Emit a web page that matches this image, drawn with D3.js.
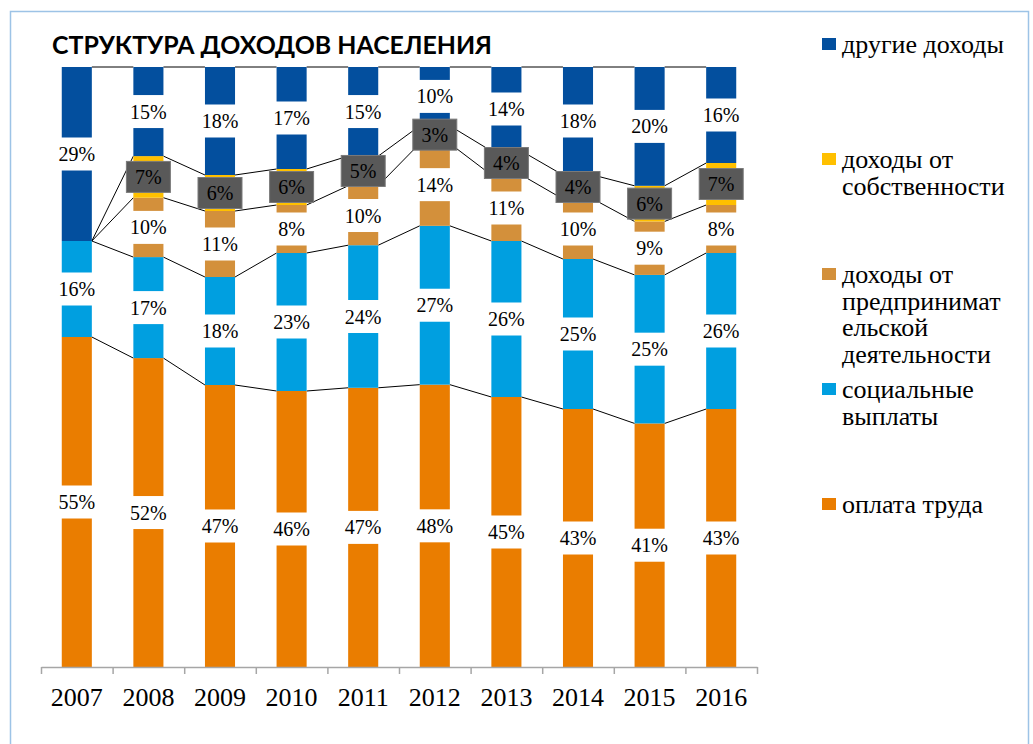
<!DOCTYPE html>
<html>
<head>
<meta charset="utf-8">
<script src="https://cdn.jsdelivr.net/npm/d3@7"></script>
<style>
  body { margin: 0; background: #fff; }
  svg { display: block; }
</style>
</head>
<body>
<svg id="chart"></svg>
<script>
const years = ["2007", "2008", "2009", "2010", "2011", "2012", "2013", "2014", "2015", "2016"];
const wages = [55, 52, 47, 46, 47, 48, 45, 43, 41, 43];
const social = [16, 17, 18, 23, 24, 27, 26, 25, 25, 26];
const business = [0, 10, 11, 8, 10, 14, 11, 10, 9, 8];
const property = [0, 7, 6, 6, 5, 3, 4, 4, 6, 7];
const other = [29, 15, 18, 17, 15, 10, 14, 18, 20, 16];

const seriesKeys = ["wages", "social", "business", "property", "other"];
const seriesNames = {
  other: ["другие доходы"],
  property: ["доходы от", "собственности"],
  business: ["доходы от", "предпринимат", "ельской", "деятельности"],
  social: ["социальные", "выплаты"],
  wages: ["оплата труда"],
};
const colors = {
  wages: "#ea7d00",
  social: "#009fe0",
  business: "#d3903b",
  property: "#ffc000",
  other: "#034f9e",
};

const w = 1033;
const h = 744;
const serif = "'Liberation Serif', 'Times New Roman', serif";
const svg = d3.select("#chart").attr("width", w).attr("height", h);

// frame
svg.append("rect")
  .attr("x", 10.5).attr("y", 11.5)
  .attr("width", 1018).attr("height", 760)
  .attr("fill", "none")
  .attr("stroke", "#9dc3e6")
  .attr("stroke-width", 1.5);

// title
svg.append("text")
  .attr("x", 52).attr("y", 54)
  .attr("font-family", "Lato, 'Open Sans', sans-serif")
  .attr("font-weight", 700)
  .attr("font-size", 24)
  .attr("textLength", 440)
  .attr("lengthAdjust", "spacingAndGlyphs")
  .attr("fill", "#000")
  .text("СТРУКТУРА ДОХОДОВ НАСЕЛЕНИЯ");

const table = years.map((year, i) => ({
  year,
  wages: wages[i],
  social: social[i],
  business: business[i],
  property: property[i],
  other: other[i],
}));

const stacked = d3.stack().keys(seriesKeys).offset(d3.stackOffsetExpand)(table);

const xScale = d3.scaleBand()
  .domain(years)
  .range([41, 757])
  .paddingInner(0.58)
  .paddingOuter(0.29);

const yScale = d3.scaleLinear().domain([0, 1]).range([667, 67]);
const bw = xScale.bandwidth();

// series lines between bars
const lines = svg.append("g");
stacked.forEach((layer) => {
  for (let i = 0; i < layer.length - 1; i++) {
    lines.append("line")
      .attr("x1", xScale(years[i]) + bw)
      .attr("x2", xScale(years[i + 1]))
      .attr("y1", yScale(layer[i][1]))
      .attr("y2", yScale(layer[i + 1][1]))
      .attr("stroke", "#000")
      .attr("stroke-width", 1);
  }
});

// bars
svg.append("g")
  .selectAll("g")
  .data(stacked)
  .join("g")
  .attr("fill", (d) => colors[d.key])
  .selectAll("rect")
  .data((d) => d)
  .join("rect")
  .attr("x", (d) => xScale(d.data.year))
  .attr("y", (d) => yScale(d[1]))
  .attr("width", bw)
  .attr("height", (d) => yScale(d[0]) - yScale(d[1]));

// x axis: boundary ticks
const edgeScale = d3.scaleLinear().domain([0, years.length]).range([41, 757]);
const tickAxis = svg.append("g")
  .attr("transform", "translate(0,667)")
  .call(d3.axisBottom(edgeScale).ticks(years.length).tickFormat("").tickSize(7).tickSizeOuter(0));
tickAxis.selectAll("path, line").attr("stroke", "#a6a6a6").attr("stroke-width", 1.5);

// x axis: year labels
const labelAxis = svg.append("g")
  .attr("transform", "translate(0,667)")
  .call(d3.axisBottom(xScale).tickSize(0).tickPadding(21));
labelAxis.select(".domain").remove();
labelAxis.selectAll("text")
  .attr("font-family", serif)
  .attr("font-size", 26)
  .attr("fill", "#000");

// data labels
const labels = svg.append("g");
stacked.forEach((layer) => {
  const src = { wages, social, business, property, other }[layer.key];
  layer.forEach((d, i) => {
    if (src[i] <= 0) return;
    const cx = xScale(d.data.year) + bw / 2;
    const cy = yScale((d[0] + d[1]) / 2);
    const dark = layer.key === "property";
    labels.append("rect")
      .attr("x", cx - 22)
      .attr("y", cy - (dark ? 15.5 : 16.5))
      .attr("width", 44)
      .attr("height", dark ? 31 : 33)
      .attr("fill", dark ? "#595959" : "#fff")
      .attr("stroke", dark ? "#7a7a7a" : "none")
      .attr("stroke-width", 1);
    labels.append("text")
      .attr("x", cx)
      .attr("y", cy)
      .attr("dy", "0.35em")
      .attr("text-anchor", "middle")
      .attr("font-family", serif)
      .attr("font-size", 20)
      .attr("fill", "#000")
      .text(src[i] + "%");
  });
});

// legend
const legendOrder = ["other", "property", "business", "social", "wages"];
const legendBaselines = [53, 168, 283, 398, 513];
const legend = svg.append("g");
legendOrder.forEach((key, k) => {
  const base = legendBaselines[k];
  legend.append("rect")
    .attr("x", 822)
    .attr("y", base - 15)
    .attr("width", 14)
    .attr("height", 12)
    .attr("fill", colors[key]);
  const t = legend.append("text")
    .attr("x", 842)
    .attr("y", base)
    .attr("font-family", serif)
    .attr("font-size", 26)
    .attr("fill", "#000");
  seriesNames[key].forEach((line, j) => {
    t.append("tspan").attr("x", 842).attr("y", base + j * 26.7).text(line);
  });
});
</script>
</body>
</html>
